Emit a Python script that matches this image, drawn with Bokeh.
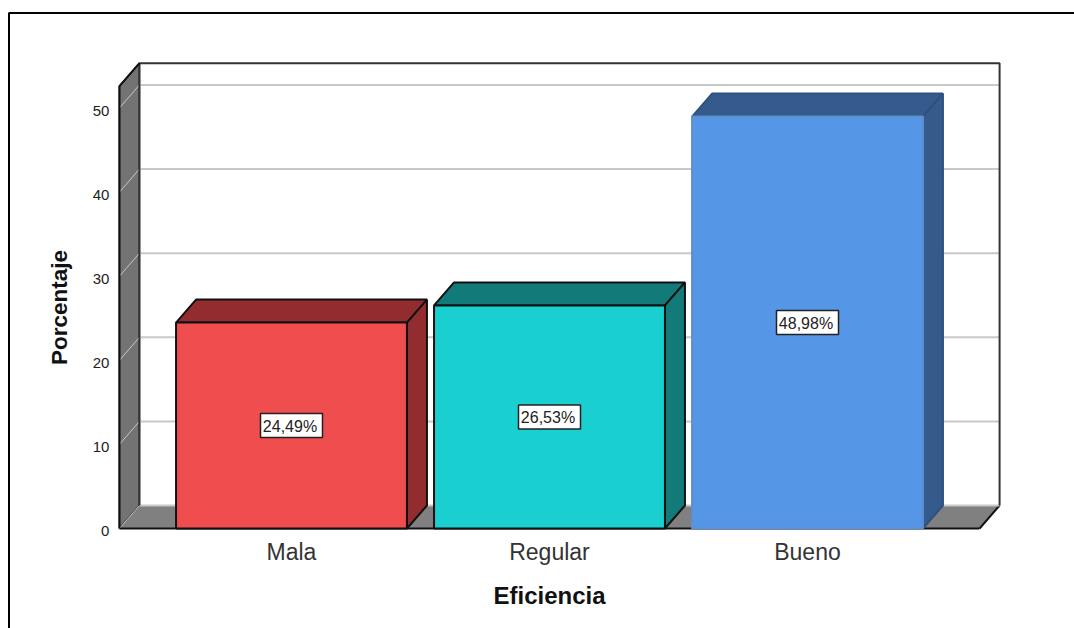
from bokeh.plotting import figure
from bokeh.models import Range1d, LinearAxis, FixedTicker
from bokeh.core.properties import value
from bokeh.embed import file_html
from bokeh.resources import INLINE

categories = ["Mala", "Regular", "Bueno"]
percentages = [24.49, 26.53, 48.98]
bar_labels = ["24,49%", "26,53%", "48,98%"]
y_ticks = [0, 10, 20, 30, 40, 50]
front_colors = ["#EF4D4E", "#1ACFD0", "#5596E6"]
dark_colors = ["#932C2F", "#127B7A", "#355B8C"]
edge_colors = ["#111111", "#111111", "#5F8FCC"]
side_edge_colors = ["#111111", "#111111", "#2F5180"]

FONT = "Liberation Sans"
W, H = 1074, 628
PX_X = 258.0
PX_Y = 8.41
DX = 20 / PX_X
DY = 23 / PX_Y
X0, X1 = -0.667, 2.667
YTOP = 52.6
BAR_W = 0.895
LABEL_SHIFT = 2.5 / PX_Y

# plot frame fills the whole canvas; the axes sit at fixed locations inside it
x_start = -291 / PX_X
x_end = x_start + W / PX_X
y_end = 528 / PX_Y
y_start = y_end - H / PX_Y
p = figure(width=W, height=H, x_range=Range1d(x_start, x_end), y_range=Range1d(y_start, y_end),
           x_axis_type=None, y_axis_type=None, output_backend="svg", toolbar_location=None,
           min_border=0, background_fill_color="white", border_fill_color="white")
p.outline_line_color = None
p.grid.visible = False
p.extra_y_ranges = {"labels": Range1d(y_start + LABEL_SHIFT, y_end + LABEL_SHIFT)}

yaxis = LinearAxis(y_range_name="labels", ticker=FixedTicker(ticks=y_ticks), axis_label="Porcentaje",
                   fixed_location=X0, bounds=(0, YTOP + 2 * LABEL_SHIFT))
yaxis.axis_line_color = None
yaxis.major_tick_line_color = None
yaxis.minor_tick_line_color = None
yaxis.major_label_standoff = 4
yaxis.major_label_text_font = FONT
yaxis.major_label_text_font_size = "15px"
yaxis.major_label_text_color = "#222222"
yaxis.axis_label_standoff = 18
yaxis.axis_label_text_font = FONT
yaxis.axis_label_text_font_style = "bold"
yaxis.axis_label_text_font_size = "22.5px"
yaxis.axis_label_text_color = "#111111"
p.add_layout(yaxis, "left")

xaxis = LinearAxis(ticker=FixedTicker(ticks=list(range(len(categories)))), fixed_location=0, bounds=(X0, X1),
                   major_label_overrides={i: c for i, c in enumerate(categories)}, axis_label="Eficiencia")
xaxis.axis_line_color = None
xaxis.major_tick_line_color = None
xaxis.minor_tick_line_color = None
xaxis.major_label_standoff = 4
xaxis.major_label_text_font = FONT
xaxis.major_label_text_font_size = "23px"
xaxis.major_label_text_color = "#333333"
xaxis.axis_label_standoff = 14
xaxis.axis_label_text_font = FONT
xaxis.axis_label_text_font_style = "bold"
xaxis.axis_label_text_font_size = "24px"
xaxis.axis_label_text_color = "#111111"
p.add_layout(xaxis, "below")

# outer picture frame: left and top edges only
edge_x = x_start + 8.5 / PX_X
edge_y = y_end - 12.5 / PX_Y
p.line([edge_x, edge_x, x_end], [y_start, edge_y, edge_y], line_color="black", line_width=2)

# walls
p.patch([X0, X0, X0 + DX, X0 + DX], [0, YTOP, YTOP + DY, DY], fill_color="#737373", line_color="#111111", line_width=1.5)
p.patch([X0, X1, X1 + DX, X0 + DX], [0, 0, DY, DY], fill_color="#808080", line_color=None)
p.line([X0, X1], [0, 0], line_color="#111111", line_width=2)
p.line([X1, X1 + DX], [0, DY], line_color="#111111", line_width=2)
p.line([X0 + DX, X1 + DX], [DY, DY], line_color="#C8C8C8", line_width=2)

# gridlines on back and left wall
grid_values = y_ticks[1:]
p.multi_line([[X0 + DX, X1 + DX] for v in grid_values], [[v + DY, v + DY] for v in grid_values],
             line_color="#C8C8C8", line_width=2)
p.multi_line([[X0, X0 + DX] for v in y_ticks], [[v, v + DY] for v in y_ticks], line_color="#C8C8C8", line_width=1)

p.line([X0 + DX, X0 + DX, X1 + DX, X1 + DX], [DY, YTOP + DY, YTOP + DY, DY], line_color="#333333", line_width=2)
p.line([X0, X0, X0 + DX], [0, YTOP, YTOP + DY], line_color="#111111", line_width=2)

# bars
for i, v in enumerate(percentages):
    l, r = i - BAR_W / 2, i + BAR_W / 2
    p.patch([l, l + DX, r + DX, r], [v, v + DY, v + DY, v], fill_color=dark_colors[i], line_color=side_edge_colors[i], line_width=2)
    p.patch([r, r + DX, r + DX, r], [0, DY, v + DY, v], fill_color=dark_colors[i], line_color=side_edge_colors[i], line_width=2)
    p.patch([l, r, r, l], [0, 0, v, v], fill_color=front_colors[i], line_color=edge_colors[i], line_width=2)

# value labels
centers = list(range(len(categories)))
mids = [v / 2 for v in percentages]
p.rect(centers, mids, width=62, height=24, width_units="screen", height_units="screen",
       fill_color="white", line_color="#222222", line_width=1.5)
p.text(centers, mids, text=bar_labels, text_align="center", text_baseline="middle", x_offset=-1.5, y_offset=1,
       text_font=value(FONT), text_font_size="16px", text_color="#222222")

open("out.html", "w").write(file_html(p, INLINE))
